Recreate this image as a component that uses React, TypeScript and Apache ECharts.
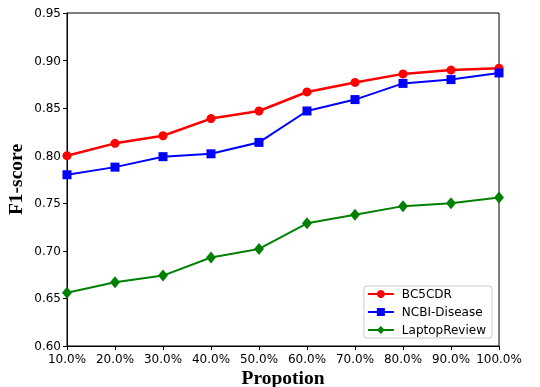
import React, { useEffect, useRef } from "react";
import * as echarts from "echarts";

const categories = ["10.0%", "20.0%", "30.0%", "40.0%", "50.0%", "60.0%", "70.0%", "80.0%", "90.0%", "100.0%"];
const bc5cdr = [0.800, 0.813, 0.821, 0.839, 0.847, 0.867, 0.877, 0.886, 0.890, 0.892];
const ncbi = [0.780, 0.788, 0.799, 0.802, 0.814, 0.847, 0.859, 0.876, 0.880, 0.887];
const laptop = [0.656, 0.667, 0.674, 0.693, 0.702, 0.729, 0.738, 0.747, 0.750, 0.756];

export default function App() {
  const ref = useRef<HTMLDivElement>(null);
  useEffect(() => {
    const chart = echarts.init(ref.current!, null, { renderer: "svg" });
    const tickFont = { fontFamily: "DejaVu Sans", fontSize: 12, color: "#000" };
    const titleFont = { fontFamily: "Liberation Serif", fontWeight: "bold", fontSize: 19.5, color: "#000" };
    chart.setOption({
      animation: false,
      grid: {
        left: 67, right: 41, top: 13, bottom: 41,
        show: true, borderColor: "#000", borderWidth: 1,
        containLabel: false, outerBoundsMode: "none",
      },
      legend: {
        right: 48,
        bottom: 49,
        orient: "vertical",
        itemWidth: 26,
        itemHeight: 10,
        itemGap: 6,
        padding: [2, 6, 2, 3],
        borderColor: "#ccc",
        borderWidth: 1,
        borderRadius: 3,
        backgroundColor: "#fff",
        textStyle: { fontFamily: "DejaVu Sans", fontSize: 12, color: "#000", padding: [0, 0, 0, 3] },
      },
      xAxis: {
        type: "category",
        data: categories,
        boundaryGap: false,
        name: "Propotion",
        nameLocation: "middle",
        nameGap: 21,
        nameMoveOverlap: false,
        nameTextStyle: titleFont,
        axisLine: { lineStyle: { color: "#000" } },
        axisTick: { alignWithLabel: true, length: 4, lineStyle: { color: "#000" } },
        axisLabel: { ...tickFont, margin: 7, interval: 0 },
        splitLine: { show: false },
      },
      yAxis: {
        type: "value",
        min: 0.6,
        max: 0.95,
        interval: 0.05,
        name: "F1-score",
        nameLocation: "middle",
        nameGap: 42,
        nameMoveOverlap: false,
        nameTextStyle: titleFont,
        axisLine: { show: true, lineStyle: { color: "#000" } },
        axisTick: { show: true, length: 4, lineStyle: { color: "#000" } },
        axisLabel: { ...tickFont, margin: 6, formatter: (v: number) => v.toFixed(2) },
        splitLine: { show: false },
      },
      series: [
        {
          name: "BC5CDR",
          type: "line",
          data: bc5cdr,
          color: "#ff0000",
          symbol: "circle",
          symbolSize: 9,
          lineStyle: { width: 2.5 },
        },
        {
          name: "NCBI-Disease",
          type: "line",
          data: ncbi,
          color: "#0000ff",
          symbol: "rect",
          symbolSize: 9,
          lineStyle: { width: 2 },
        },
        {
          name: "LaptopReview",
          type: "line",
          data: laptop,
          color: "#008000",
          symbol: "diamond",
          symbolSize: [10, 12],
          lineStyle: { width: 2 },
        },
      ],
    });
    return () => chart.dispose();
  }, []);
  return <div ref={ref} style={{ position: "fixed", left: 0, top: 0, width: 540, height: 387 }} />;
}
